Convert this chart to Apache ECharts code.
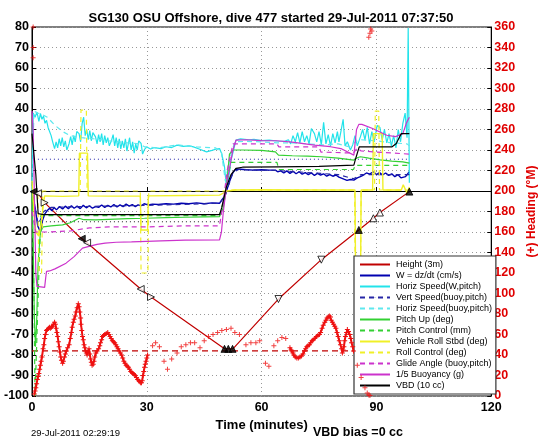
<!DOCTYPE html>
<html><head><meta charset="utf-8">
<script src="https://cdn.jsdelivr.net/npm/echarts@6.0.0/dist/echarts.min.js"></script>
<style>html,body{margin:0;padding:0;background:#fff}#c{width:546px;height:442px}</style>
</head><body><div id="c"></div>
<script>
// ---- data (time in minutes, value in left-axis units unless noted) ----
const legendNames = ['Height (3m)','W = dz/dt (cm/s)','Horiz Speed(W,pitch)','Vert Speed(buoy,pitch)','Horiz Speed(buoy,pitch)','Pitch Up (deg)','Pitch Control (mm)','Vehicle Roll Stbd (deg)','Roll Control (deg)','Glide Angle (buoy,pitch)','1/5 Buoyancy (g)','VBD (10 cc)'];

const height = [[0,0],[0.8,-0.3],[1.6,-1.1],[3.3,-5.7],[12.3,-22.2],[14,-24.6],[28.4,-47.8],[31.1,-51.7],[50.3,-77],[52.5,-77],[64.4,-52.7],[75.6,-33.5],[85.4,-19],[89.2,-13.3],[90.9,-10.5],[98.6,-0.3]];
const heightMarkT = [0.4,1.6,3.3,13.0,14.4,28.4,31.1,50.3,51.3,52.4,64.4,75.6,85.4,89.2,90.9,98.6];
const heightMarkV = [-0.3,-1.1,-5.7,-23.3,-25.2,-47.8,-51.7,-77,-77,-77,-52.7,-33.5,-19,-13.3,-10.5,-0.3];
const heightMarkKind = ['leftFill','left','right','leftFill','left','left','right','fill','fill','fill','down','down','fill','up','up','fill'];

const wSpeed = [[0,0],[0.8,-8],[1.5,-17],[2.2,-20],[2.8,-14],[3.4,-11],[4,-9.5],[4.6,-8.4],[5.2,-9.6],[5.8,-8],[6.4,-9.2],[7.2,-7.6],[8,-8.8],[8.7,-7.4],[9.5,-8.6],[10.3,-7.2],[11,-8.4],[11.8,-7.4],[12.6,-8.6],[13.4,-7],[14.2,-8.2],[15,-7.2],[15.8,-8.4],[16.6,-7.6],[17.4,-8],[18.2,-6.8],[19,-8],[19.8,-7],[20.6,-7.8],[21.4,-6.6],[22.2,-7.8],[23,-6.8],[23.8,-7.6],[24.6,-6.4],[25.4,-7.4],[26.2,-6.6],[27,-7.6],[27.7,-6.8],[28.5,-7.2],[29.3,-6.2],[30.3,-6.8],[31.5,-6.4],[33,-6.6],[35,-6.2],[37,-6.4],[39,-6],[41,-6.2],[43,-5.8],[45,-6.2],[47,-5.8],[49,-6],[50.5,-2],[51.5,4],[52.5,9],[53.3,10.7],[54.5,10.6],[56,10.4],[58,10.2],[60,10.4],[62,10.2],[63.6,10.2],[64.2,9.4],[65,9.8],[65.8,8.8],[66.6,9.8],[67.4,8.6],[68.2,9.6],[69,8.4],[69.8,9.4],[70.6,8.2],[71.4,9],[72.2,8],[73,8.8],[73.8,7.6],[74.6,8.6],[75.4,7.8],[76.2,8.4],[77,7.2],[77.8,8],[78.6,7.2],[79.4,7.8],[80.2,6.8],[80.7,6.6],[81.5,5.8],[82.3,5.2],[83.2,5.6],[84.1,5.3],[85,6.4],[85.8,7],[86.6,7.8],[87.4,8.8],[88.2,8.2],[89.2,9.4],[90,8],[90.8,9],[91.6,7.8],[92.4,8.8],[93.2,7.6],[94,8.4],[94.8,7],[95.6,8],[96.4,6.4],[96.9,6.2],[97.6,7],[98.6,9.4]];

const horizSpeedW = [[0,0],[0.3,38],[0.8,36],[1.3,38.5],[1.8,34],[2.2,37.8],[2.6,35],[3,36.5],[3.4,33],[3.8,34.5],[4.2,31],[4.6,31.3],[5,27],[5.4,24],[5.9,20.7],[6.3,24],[6.7,21],[7.1,25.5],[7.5,22],[7.9,26],[8.3,21.5],[8.7,24.5],[9.1,20],[9.7,23.2],[10.1,26.5],[10.5,22.5],[10.9,27],[11.3,24],[11.7,29],[12.3,28],[12.7,24],[13.1,33],[13.5,36],[13.9,27],[14.3,30],[14.7,25],[15.1,29.5],[15.5,24.5],[15.9,28.5],[16.6,26.4],[17,23],[17.4,27.5],[17.8,24],[18.2,28],[18.6,22.5],[19,27],[19.4,23.5],[19.8,26],[20.2,22],[20.8,24.8],[21.2,27.5],[21.6,22],[22,26],[22.4,21],[22.8,25.5],[23.2,20.5],[23.6,24.5],[24,21],[24.4,25.5],[24.8,19.5],[25.1,22.4],[25.5,26],[25.9,20],[26.3,24],[26.7,18.5],[27.1,23],[27.5,20],[27.9,24.5],[28.5,23.2],[28.9,18],[29.4,20.3],[30,21.5],[31,20.5],[32,21.2],[33.7,20.7],[35,21.6],[36.5,21.2],[37.9,22.4],[39.5,21.8],[41,22],[42.2,21.5],[43.5,20.6],[45.6,19.1],[47,19.8],[48.2,20.5],[49,20.7],[49.6,18],[50.3,11.8],[50.8,2],[51.3,5],[52,15],[53.3,24.8],[54.5,25.4],[56.7,25],[58,25.2],[60,24.6],[62,24.8],[64,24.4],[66,24.2],[67,25],[67.6,23],[68.2,27],[68.8,24],[69.4,28.5],[70,23.5],[70.6,29],[71.2,24],[71.8,27],[72.4,23],[73,30.5],[73.8,28],[74.4,24],[75,29],[75.6,22.5],[76.2,33.5],[76.8,23],[77.4,27.5],[78,22],[78.6,28],[79.2,23.5],[79.8,29],[80.2,24],[80.7,28.8],[81.3,35],[81.8,22],[82.4,24],[83.2,20],[83.8,22.5],[84.4,27],[85,22],[85.8,26.4],[86.4,30],[87,25],[87.6,31],[88.2,23],[88.8,29],[89.4,24],[90.2,32],[90.9,31],[91.5,25],[92.1,30],[92.7,23.5],[93.3,28],[93.9,22],[94.5,27],[95.1,21],[95.7,30],[96.3,24],[96.9,33],[97.5,38],[98,26],[98.3,79.5],[98.5,79.5],[98.6,4]];

const vertSpeedBuoy = [[0,0],[1,-10],[1.6,-16],[2.2,-14],[3,-10],[5,-8],[15,-7.5],[30,-7],[49,-6],[50.5,-2],[52.5,9],[54,10.5],[64,10],[80,8],[84,6],[86,8],[98.6,8]];
const horizSpeedBuoy = [[0,0],[0.5,39],[1.5,38],[2.5,37.5],[4,36],[6,32],[8,29],[10,27],[13,26],[16,25.5],[20,24.5],[25,23.5],[28,23],[29.5,21.5],[33,21],[38,22.5],[43,21.5],[48,21],[49.5,19],[50.5,5],[52,18],[53,24],[56,24.2],[60,24],[64,23.5],[68,23.5],[72,23],[76,22.5],[80,23],[83,21.5],[84.5,24],[86,25],[90,24.5],[94,23.5],[98,23],[98.6,22]];

const pitchUp = [[0,0],[0.3,-25],[0.6,-60],[0.9,-76],[1.2,-65],[1.6,-35],[2.2,-20],[2.9,-17.5],[3.3,-17.4],[5,-17],[8,-16.5],[10,-15.5],[12.3,-13.3],[13.5,-14],[16.6,-14.1],[20,-13.8],[25,-13.5],[29.4,-13.3],[35,-13],[40,-12.8],[45,-12.6],[49,-12.5],[50,-8],[50.8,2],[51.6,18],[52.5,20],[55,20],[60,19.8],[63.6,19.1],[64.4,17.5],[68,17.2],[72,17],[75.6,16.7],[80,16],[84.1,15.1],[85,16.2],[85.8,16.7],[88,16],[91,15.2],[94,14.6],[96.9,14.2],[98.6,13.6]];
const pitchCtrl = [[0,-3],[0.5,-50],[0.8,-100],[1.3,-100],[1.8,-40],[2.3,-12],[49,-12],[50,-5],[51,5],[52,14],[64,14],[64.5,10.5],[84,10.5],[84.5,12.5],[98.6,12.5]];

const rollStbd = [[0,5],[0.5,-10],[1,-20],[1.8,-22],[2.4,-16],[3,-6],[3.3,-2.4],[8,-2.6],[12.2,-2.4],[12.4,18.5],[14.5,18.5],[14.7,-2.4],[20,-2.5],[28.3,-2.5],[28.5,-19],[30.2,-19],[30.4,-2.4],[40,-2.2],[49,-2],[51,0],[53,0.5],[60,0.6],[70,0.5],[80,0.5],[84.4,0.5],[84.6,-55],[85.8,-55],[86,0.5],[89,0.5],[89.2,28],[91.5,28],[91.7,0.5],[96.5,0.5],[97,3],[98,-1],[98.6,2]];
const rollCtrl = [[0,0],[1.5,0],[1.8,-40],[2.5,-40],[2.8,0],[12.6,0],[12.8,39.5],[14.2,39.5],[14.4,0],[28.3,0],[28.5,-40],[30.3,-40],[30.5,0],[50,0],[52,0.5],[84.3,0.5],[84.5,-60],[85.8,-60],[86,0.5],[89.5,0.5],[89.7,39],[90.6,39],[90.8,0.5],[98.6,0.5]];

const glideAngle = [[0,-10],[1,-20],[4,-20],[10,-19.5],[15,-18],[20,-17.5],[30,-17.5],[40,-17],[49,-17],[50,-5],[51,10],[52.5,23],[64,23],[64.5,21.5],[75,21.5],[75.5,19],[84,18.5],[85,21],[86,19.5],[98.6,18]];
const buoyancy = [[0,39],[0.3,30],[0.7,-10],[1,-40],[1.3,-46.5],[3.3,-47],[3.6,-42],[3.8,-39.2],[4.6,-39],[6,-38],[8.9,-35.2],[11,-32],[13.2,-27.9],[14.9,-27],[17,-26],[19.1,-25.4],[22,-25],[26,-24.8],[33.7,-24.3],[40,-24],[49,-23.8],[49.5,-20],[50,-10],[51,5],[52.5,20],[53.3,24.8],[56,25],[60,24.6],[64,24.5],[68,23.8],[73.8,22.4],[78,21.6],[80.7,20.7],[84.1,17.5],[84.8,30],[85.4,32.5],[86.2,32.5],[89,30.5],[92.7,27.2],[95,26.5],[96.9,28],[97.8,33],[98.6,36]];
const vbd = [[0,28],[0.4,28],[1,8],[1.6,-11],[3,-11.5],[49,-11.5],[49.6,-8],[50.8,2],[52,8],[53.3,11],[55,11.6],[64.4,11.8],[75,12],[84.1,12.6],[84.6,16],[85.5,21.5],[94,21.5],[95.2,23.2],[95.6,24.8],[96.5,28],[98.6,28]];

// heading (deg, right axis): dense early band, sparse middle, dense late band, wrap points
const headEarlyT =   [0.6,0.8,1.0,1.2,1.4,1.6,1.8,2.0,2.2,2.4,2.6,2.9,3.1,3.3,3.5,3.8,4.0,4.3,4.6,4.8,5.1,5.3,5.6,5.9,6.1,6.3,6.5,6.7,6.9,7.1,7.3,7.5,7.7,8.0,8.2,8.5,8.7,9.0,9.3,9.7,10.0,10.3,10.5,10.8,11.0,11.3,11.5,11.8,12.1,12.3,12.5,12.7,12.8,13.0,13.2,13.4,13.6,13.8,14.0,14.2,14.4,14.6,14.9,15.1,15.3,15.5,15.7,16.0,16.2,16.4,16.7,17.0,17.4,17.7,17.9,18.2,18.4,18.7,19.0,19.4,19.8,20.1,20.4,20.7,21.0,21.3,21.6,21.9,22.2,22.5,22.8,23.1,23.4,23.7,24.0,24.3,24.6,24.9,25.2,25.5,25.8,26.1,26.4,26.7,27.0,27.3,27.6,27.9,28.2,28.4,28.6,28.8,29.0,29.2,29.4,29.6,29.8,30.0,30.2];
const headEarlyDeg = [2,5,8,12,16,19,22,26,30,34,38,46,50,56,60,64,65,66,67,66,67,68,70,72,70,66,62,58,53,48,43,38,35,32,34,38,41,44,47,50,56,62,67,72,75,78,82,86,90,87,82,76,70,64,58,55,50,47,44,42,40,43,46,41,36,33,30,31,34,38,42,44,46,49,52,55,58,59,60,61,62,60,58,56,54,53,52,50,48,46,44,42,40,37,34,32,30,29,28,26,24,23,22,21,20,18,16,15,14,13,13,15,20,24,28,31,34,37,40];
const headMidT =   [31.5,32.3,33.3,34.5,35.4,36.5,37.9,39.0,40.2,41.4,42.5,43.9,45.0,46.1,47.3,48.5,49.6,50.8,52.0,53.0,54.2,55.9,57.2,58.5,59.5,61.0,61.9,63.2,64.2,65.3,66.3];
const headMidDeg = [49,52,48,34,26,36,42,48,50,52,52,47,54,58,60,62,64,65,66,62,60,50,52,52,54,32,29,49,54,57,56];
const headLateT =   [67.4,67.7,67.9,68.2,68.4,68.8,69.2,69.6,70.0,70.4,70.8,71.2,71.5,71.8,72.1,72.5,72.8,73.2,73.5,73.9,74.3,74.7,75.1,75.4,75.8,76.1,76.5,76.8,77.1,77.4,77.7,78.0,78.2,78.5,78.8,79.1,79.4,79.7,80.0,80.3,80.6,80.9,81.1,81.3,81.5,81.7,81.9,82.2,82.4,82.7,83.0,83.3,83.5,83.8,84.0];
const headLateDeg = [47,45,44,42,40,38,37,37,38,39,41,44,46,48,49,50,52,54,55,56,58,59,60,62,66,69,72,74,76,77,78,77,74,72,70,68,66,62,58,54,50,46,42,45,48,54,58,62,65,63,60,56,52,48,44];
const headEndT =   [85.0,86.0,87.0,87.6,88.0,88.3];
const headEndDeg = [30,18,8,3,1,0.5];
const headWrapT =   [0.3,0.3,0.3,88.0,88.3,88.5,88.8];
const headWrapDeg = [360,340,330,350,354,358,356];
const headTarget = [[0,44],[120,44]];
const refBlue = [[0.5,15.5],[98.6,15.5]];
const refBlack = [[0.5,-15],[98.6,-15]];

// ---- chart ----
const FONT = 'Liberation Sans, Arial, Helvetica, sans-serif';
const PLUS = 'path://M2,0H3V2H5V3H3V5H2V3H0V2H2Z';
const HEAD_RED = '#ee1111';
const chart = echarts.init(document.getElementById('c'), null, {renderer:'canvas'});
function ln(name, data, color, dashed, width){
  return {name, type:'line', data, symbol:'none', yAxisIndex:0, animation:false,
    lineStyle:{color, width: width||1.2, type: dashed ? [5,4] : 'solid'}, itemStyle:{color}, z:3};
}
const pair = (ts, vs) => ts.map((t,i)=>[t, vs[i]]);
const markKinds = {
  left:{rot:90, fill:'#fff'}, leftFill:{rot:90, fill:'#000'}, right:{rot:-90, fill:'#fff'},
  down:{rot:180, fill:'#fff'}, up:{rot:0, fill:'#fff'}, fill:{rot:0, fill:'#000'}
};
const markData = heightMarkT.map((t,i)=>{
  const k = markKinds[heightMarkKind[i]];
  return {value:[t, heightMarkV[i]], symbolRotate:k.rot, itemStyle:{color:k.fill, borderColor:'#000', borderWidth:1}};
});
function headBand(ts, vs){
  return {type:'line', data:pair(ts,vs), yAxisIndex:1, animation:false, silent:true, symbol:PLUS, symbolSize:5,
    showSymbol:true, showAllSymbol:true, lineStyle:{color:HEAD_RED, width:2}, itemStyle:{color:HEAD_RED}, z:4};
}
function headScatter(ts, vs){
  return {type:'scatter', data:pair(ts,vs), yAxisIndex:1, animation:false, silent:true,
    symbol:PLUS, symbolSize:5, itemStyle:{color:HEAD_RED}, z:4};
}
const series = [
  {type:'line', data:refBlue, symbol:'none', silent:true, animation:false, lineStyle:{color:'#2222aa', width:1, type:[1,3]}, z:2},
  {type:'line', data:refBlack, symbol:'none', silent:true, animation:false, lineStyle:{color:'#222', width:1, type:[1,3]}, z:2},
  {type:'line', data:headTarget, yAxisIndex:1, symbol:'none', silent:true, animation:false, lineStyle:{color:'#c00000', width:1.2, type:[6,4]}, z:2},
  headBand(headEarlyT, headEarlyDeg),
  headScatter(headMidT, headMidDeg),
  headBand(headLateT, headLateDeg),
  headScatter(headEndT, headEndDeg),
  headScatter(headWrapT, headWrapDeg),
  ln(legendNames[0], height, '#c00000', false, 1.2),
  ln(legendNames[1], wSpeed, '#0000b0', false, 1.4),
  ln(legendNames[2], horizSpeedW, '#22e3ea', false, 1.2),
  ln(legendNames[3], vertSpeedBuoy, '#2626a6', true, 1.2),
  ln(legendNames[4], horizSpeedBuoy, '#5ee8ee', true, 1.2),
  ln(legendNames[5], pitchUp, '#33d033', false, 1.2),
  ln(legendNames[6], pitchCtrl, '#33d033', true, 1.2),
  ln(legendNames[7], rollStbd, '#f0f028', false, 1.4),
  ln(legendNames[8], rollCtrl, '#f0f028', true, 1.2),
  ln(legendNames[9], glideAngle, '#cc33cc', true, 1.2),
  ln(legendNames[10], buoyancy, '#cc33cc', false, 1.2),
  ln(legendNames[11], vbd, '#000000', false, 1.2),
  {type:'scatter', data:markData, yAxisIndex:0, animation:false, silent:true, symbol:'triangle', symbolSize:7, z:6}
];
chart.setOption({
  backgroundColor:'#fff',
  animation:false,
  textStyle:{fontFamily:FONT},
  title:{text:'SG130 OSU Offshore, dive 477 started 29-Jul-2011 07:37:50', left:266, textAlign:'center', top:7,
    textStyle:{fontSize:13, fontWeight:'bold', color:'#000', fontFamily:FONT}},
  grid:{left:32, right:46, top:27, bottom:46, show:true, borderColor:'#000', borderWidth:1, backgroundColor:'transparent'},
  legend:{data:legendNames, orient:'vertical', left:354, top:256, itemWidth:30, itemHeight:1, itemGap:0,
    padding:[3,4,3,5], backgroundColor:'#fff', borderColor:'#333', borderWidth:1.2,
    textStyle:{fontSize:9, lineHeight:11, color:'#000', fontFamily:FONT, padding:[0,0,0,1]}, selectedMode:false},
  xAxis:{type:'value', min:0, max:120, interval:30, name:'Time (minutes)', nameLocation:'middle', nameGap:19,
    nameTextStyle:{fontSize:13, fontWeight:'bold', color:'#000'},
    axisLine:{lineStyle:{color:'#000'}}, axisTick:{inside:true, length:4, lineStyle:{color:'#000'}},
    axisLabel:{fontSize:12.5, fontWeight:'bold', color:'#000', margin:5},
    splitLine:{show:true, lineStyle:{color:'#999', type:[1,3]}}},
  yAxis:[
    {type:'value', min:-100, max:80, interval:10, position:'left',
     axisLine:{show:true, lineStyle:{color:'#000'}}, axisTick:{inside:true, length:4, lineStyle:{color:'#000'}},
     axisLabel:{fontSize:12.5, fontWeight:'bold', color:'#000', margin:3},
     splitLine:{show:true, lineStyle:{color:'#999', type:[1,3]}}},
    {type:'value', min:0, max:360, interval:20, position:'right',
     name:'(+) Heading (°M)', nameLocation:'middle', nameGap:30, nameRotate:90,
     nameTextStyle:{fontSize:12, fontWeight:'bold', color:'#e00000'},
     axisLine:{show:true, lineStyle:{color:'#000'}}, axisTick:{inside:true, length:4, lineStyle:{color:'#000'}},
     axisLabel:{fontSize:12.5, fontWeight:'bold', color:'#e00000', margin:3},
     splitLine:{show:false}}
  ],
  graphic:[
    {type:'text', left:31, top:428, style:{text:'29-Jul-2011 02:29:19', fontSize:9.5, fill:'#000', fontFamily:FONT}},
    {type:'text', left:313, top:426, style:{text:'VBD bias =0 cc', fontSize:12.5, fontWeight:'bold', fill:'#000', fontFamily:FONT}}
  ],
  series
});
</script></body></html>
